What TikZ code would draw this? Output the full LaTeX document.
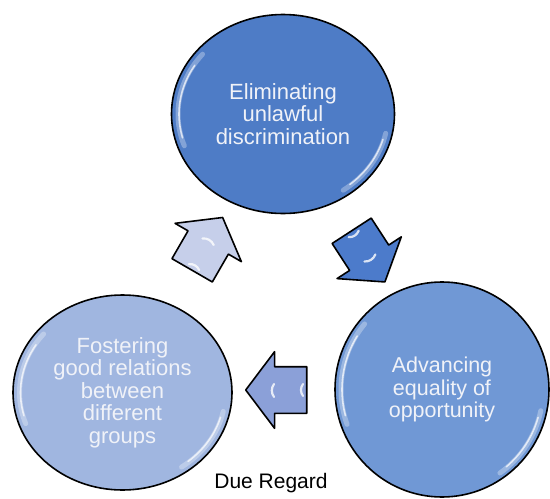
\documentclass[tikz,border=0pt]{standalone}
\usepackage{fontspec}
\setmainfont{Liberation Sans}
\usetikzlibrary{shapes.geometric,shapes.arrows}
\definecolor{topc}{RGB}{78,124,198}
\definecolor{rightc}{RGB}{112,152,213}
\definecolor{leftc}{RGB}{160,182,224}
\definecolor{arrowa}{RGB}{198,207,234}
\definecolor{arrowb}{RGB}{76,123,203}
\definecolor{arrowc}{RGB}{139,160,216}
\definecolor{bubbletext}{RGB}{240,242,248}
\begin{document}
\begin{tikzpicture}[x=1pt,y=-1pt,
  bubble/.style={ellipse, draw=black, line width=1.6pt, inner sep=0pt, align=center,
    text=bubbletext, font=\fontsize{22}{22.5}\selectfont},
  flowarrow/.style={single arrow, draw=black, line width=1.6pt, line join=round,
    minimum height=61pt, minimum width=0pt, inner xsep=0pt, inner ysep=22.5pt,
    single arrow head extend=15pt, single arrow tip angle=106},
  glosswide/.style={white, opacity=0.3, line width=5pt, line cap=round},
  gloss/.style={white, opacity=0.7, line width=1.6pt, line cap=round},
  arrowgloss/.style={white, opacity=0.8, line width=2.2pt, line cap=round}]
\useasboundingbox (0,0) rectangle (550,499);

\node[bubble, fill=topc, minimum width=223pt, minimum height=199pt] (T) at (283,114)
  {Eliminating\\unlawful\\discrimination};
\node[bubble, fill=rightc, minimum width=214pt, minimum height=215pt,
  font=\fontsize{21.5}{22.5}\selectfont] (R) at (442,389.5)
  {Advancing\\equality of\\opportunity};
\node[bubble, fill=leftc, minimum width=219pt, minimum height=195pt] (L) at (122.5,392.5)
  {Fostering\\good relations\\between\\different\\groups};

\foreach \n/\rx/\ry/\rxo/\ryo in {T/104/92/105/93, R/100/101/101/102, L/102/90/103/91}{
  \draw[glosswide] (\n.center) ++(160:{\rxo} and {\ryo}) arc (160:220:{\rxo} and {\ryo});
  \draw[gloss] (\n.center) ++(165:{\rx} and {\ry}) arc (165:212:{\rx} and {\ry});
  \draw[glosswide] (\n.center) ++(12:{\rxo} and {\ryo}) arc (12:55:{\rxo} and {\ryo});
  \draw[gloss] (\n.center) ++(16:{\rx} and {\ry}) arc (16:50:{\rx} and {\ry});
}

\node[flowarrow, fill=arrowb, rotate=-57] (A1) at (363.5,249) {};
\node[flowarrow, fill=arrowc, rotate=180] (A2) at (285,390) {};
\node[flowarrow, fill=arrowa, rotate=60] (A3) at (203,251.5) {};

\foreach \a/\r in {A1/-57, A2/180, A3/60}{
  \begin{scope}[shift={(\a.center)}, rotate=\r]
    \draw[arrowgloss] (11,-7) to[bend left=35] (11,6);
    \draw[arrowgloss] (-18,-6) to[bend left=35] (-18,6);
  \end{scope}
}

\node[font=\fontsize{21}{24}\selectfont, text=black] (D) at (271,483) {Due Regard};
\end{tikzpicture}
\end{document}
